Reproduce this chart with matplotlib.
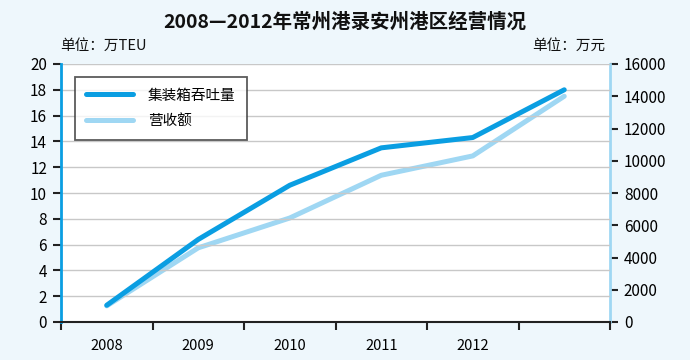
import matplotlib
matplotlib.use("Agg")
import matplotlib.pyplot as plt

plt.rcParams['font.family'] = ['Noto Sans CJK SC', 'DejaVu Sans']

categories = ['2008', '2009', '2010', '2011', '2012', '']
throughput = [1.3, 6.4, 10.6, 13.5, 14.3, 18.0]        # 万TEU (left axis)
revenue = [1000, 4600, 6450, 9100, 10300, 14000]        # 万元 (right axis)
left_ticks = [0, 2, 4, 6, 8, 10, 12, 14, 16, 18, 20]
right_ticks = [0, 2000, 4000, 6000, 8000, 10000, 12000, 14000, 16000]

dark = '#0a9ee2'
light = '#9fd7f3'
bg = '#eef7fc'

fig = plt.figure(figsize=(6.9, 3.6), dpi=100, facecolor=bg)
ax = fig.add_axes([61/690, 1-322/360, (610-61)/690, (322-64)/360])
ax.set_facecolor('white')
ax2 = ax.twinx()

x = list(range(len(categories)))
l1, = ax.plot(x, throughput, color=dark, lw=3.6, solid_capstyle='round',
              solid_joinstyle='round', zorder=4, label='集装箱吞吐量')
l2, = ax2.plot(x, revenue, color=light, lw=3.6, solid_capstyle='round',
               solid_joinstyle='round', zorder=3, label='营收额')
ax.set_zorder(ax2.get_zorder() + 1)
ax.patch.set_visible(False)
ax2.patch.set_visible(True)
ax2.patch.set_facecolor('white')

ax.set_xlim(-0.5, len(categories) - 0.5)
ax.set_ylim(0, 20)
ax2.set_ylim(0, 16000)
ax.set_yticks(left_ticks)
ax2.set_yticks(right_ticks)
ax.set_yticklabels([str(t) for t in left_ticks], fontsize=11)
ax2.set_yticklabels([str(t) for t in right_ticks], fontsize=11)

ax.set_xticks(x)
ax.set_xticklabels(categories, fontsize=10.5)
ax.set_xticks([i - 0.5 for i in range(len(categories) + 1)], minor=True)
ax.tick_params(axis='x', which='major', length=0, pad=12)
ax.tick_params(axis='x', which='minor', length=6, width=1.5, direction='out', color='#222222')
ax.tick_params(axis='y', length=6, width=1.5, color='#222222', pad=4)
ax2.tick_params(axis='y', length=6, width=1.5, color='#222222', pad=4)

ax.grid(axis='y', color='#c8c8c8', lw=1.0)
ax.set_axisbelow(True)
ax2.grid(False)

for a in (ax, ax2):
    a.spines['top'].set_visible(False)
ax.spines['left'].set_color(dark)
ax.spines['left'].set_linewidth(2)
ax.spines['right'].set_visible(False)
ax2.spines['left'].set_visible(False)
ax2.spines['bottom'].set_visible(False)
ax2.spines['right'].set_color(light)
ax2.spines['right'].set_linewidth(2)
ax.spines['bottom'].set_color('#222222')
ax.spines['bottom'].set_linewidth(1.5)

leg = ax.legend(handles=[l1, l2], loc='upper left', bbox_to_anchor=(0.025, 0.95),
                fontsize=10.5, frameon=True, fancybox=False, edgecolor='#333333',
                handlelength=3.2, borderpad=0.8, labelspacing=0.8, handletextpad=1.0,
                borderaxespad=0)
leg.get_frame().set_linewidth(1.3)
leg.get_frame().set_facecolor('white')

fig.text(0.5, 1-22/360, '2008—2012年常州港录安州港区经营情况', ha='center', va='center',
         fontsize=14, fontweight='bold', color='#111111')
fig.text(60/690, 1-46/360, '单位：万TEU', ha='left', va='center', fontsize=10.5, color='#111111')
fig.text(605/690, 1-46/360, '单位：万元', ha='right', va='center', fontsize=10.5, color='#111111')

fig.savefig('out.png', dpi=100, facecolor=bg)
